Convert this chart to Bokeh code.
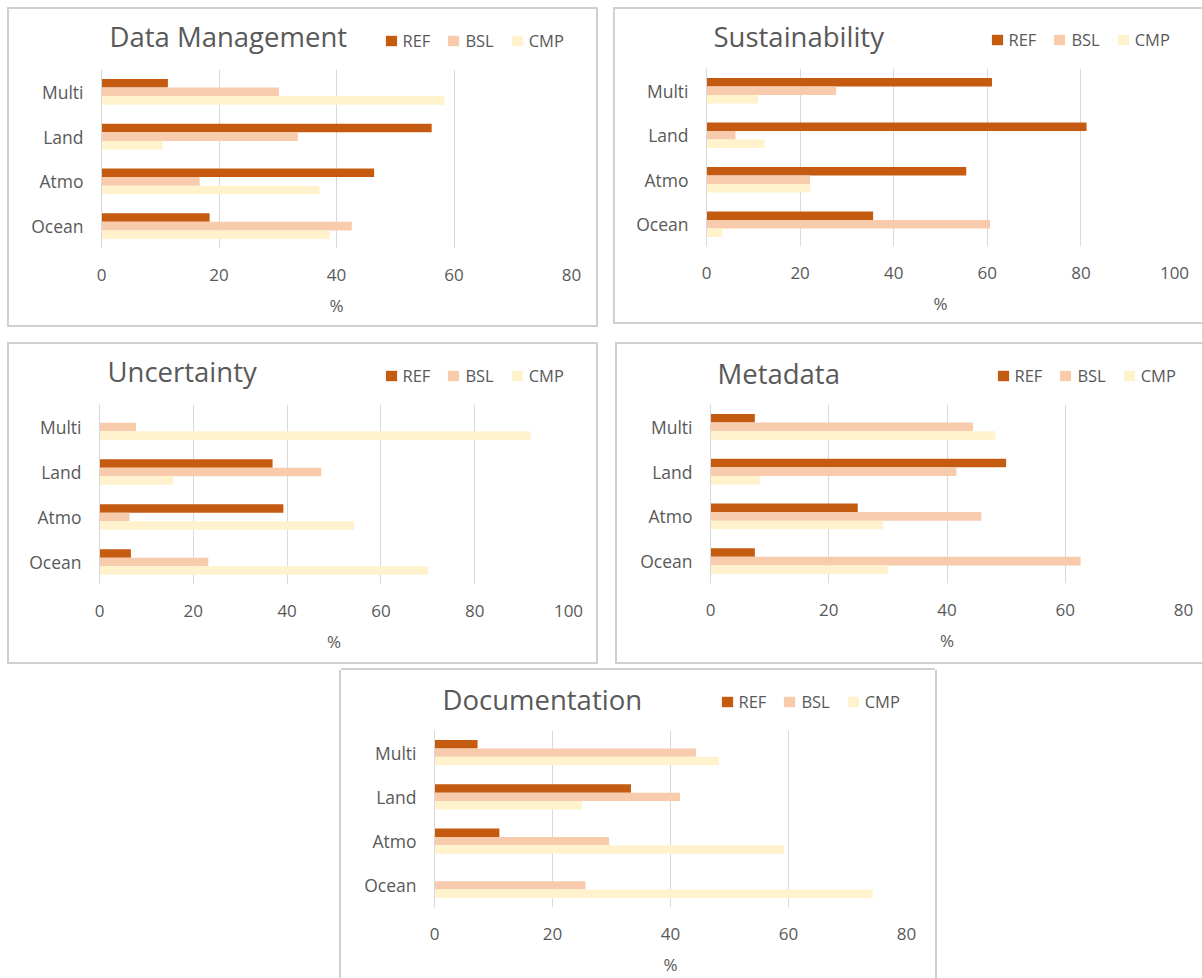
from bokeh.plotting import figure
from bokeh.models import (Range1d, FactorRange, FixedTicker, Label, Legend,
                          LegendItem, Spacer, ColumnDataSource)
from bokeh.layouts import column, row
from bokeh.transform import dodge
from bokeh.embed import file_html
from bokeh.resources import INLINE

# Categories (bottom to top) and series
regions = ["Ocean", "Atmo", "Land", "Multi"]
series = ["REF", "BSL", "CMP"]
colors = ["#C55A11", "#F8CBAD", "#FFF2CC"]

# Percentages per region, ordered Ocean, Atmo, Land, Multi
dm_ref = [18.4, 46.4, 56.2, 11.3]
dm_bsl = [42.6, 16.7, 33.4, 30.2]
dm_cmp = [38.9, 37.1, 10.4, 58.4]

su_ref = [35.6, 55.5, 81.2, 61.0]
su_bsl = [60.6, 22.1, 6.2, 27.7]
su_cmp = [3.4, 22.2, 12.4, 11.0]

un_ref = [6.7, 39.2, 36.9, 0.0]
un_bsl = [23.2, 6.4, 47.3, 7.8]
un_cmp = [70.1, 54.3, 15.7, 91.9]

md_ref = [7.5, 24.9, 50.0, 7.5]
md_bsl = [62.6, 45.8, 41.6, 44.4]
md_cmp = [30.0, 29.2, 8.4, 48.2]

doc_ref = [0.0, 11.0, 33.3, 7.3]
doc_bsl = [25.6, 29.6, 41.6, 44.3]
doc_cmp = [74.3, 59.2, 25.0, 48.2]

ticks_80 = [0, 20, 40, 60, 80]
ticks_100 = [0, 20, 40, 60, 80, 100]

TEXT = "#595959"
GRID = "#D9D9D9"
FONT = "Open Sans"
BAR_H = 0.19


def header(title, src, w, top, title_x, title_up, legend_x, legend_up):
    """Title and legend strip above a chart; its frame lines up with the chart frame."""
    hd = figure(width=w, height=top, x_range=Range1d(0, 1), y_range=Range1d(0, 1),
                output_backend="svg", toolbar_location=None,
                x_axis_location=None, y_axis_location=None,
                min_border=0, min_border_left=0, min_border_right=0,
                min_border_top=0, min_border_bottom=0)
    hd.grid.visible = False
    hd.outline_line_color = None
    hd.background_fill_color = "white"
    hd.border_fill_color = "white"

    hd.add_layout(Label(x=title_x, y=title_up, x_units="screen", y_units="screen",
                        text=title, text_font=FONT, text_font_size="27.5px",
                        text_color=TEXT, text_baseline="middle", text_align="left"))

    # hidden copies of the series, used only as legend keys
    keys = []
    for name, col in zip(series, colors):
        keys.append(hd.hbar(y=0, left=0, right=name, height=1, source=src,
                            fill_color=col, line_color=None, visible=False))
    legend = Legend(items=[LegendItem(label=s, renderers=[r])
                           for s, r in zip(series, keys)],
                    orientation="horizontal",
                    location=(legend_x - 1.5, legend_up - 10),
                    glyph_width=14, glyph_height=13, label_standoff=5,
                    spacing=16, padding=0, margin=0, label_height=20,
                    border_line_color=None, background_fill_alpha=0,
                    inactive_fill_alpha=0,
                    label_text_font=FONT, label_text_font_size="16.5px",
                    label_text_color=TEXT)
    hd.add_layout(legend)
    return hd


def chart(src, ticks, w, h, left, right, bottom):
    p = figure(width=w, height=h,
               x_range=Range1d(0, ticks[-1]), y_range=FactorRange(*regions),
               output_backend="svg", toolbar_location=None,
               min_border_left=left, min_border_right=right,
               min_border_top=0, min_border_bottom=bottom)
    p.outline_line_color = None
    p.background_fill_color = "white"
    p.border_fill_color = "white"

    offsets = [BAR_H, 0.0, -BAR_H]
    for name, col, off in zip(series, colors, offsets):
        p.hbar(y=dodge("region", off, range=p.y_range), left=0, right=name,
               height=BAR_H, source=src, fill_color=col, line_color=None)

    p.ygrid.visible = False
    p.xgrid.ticker = FixedTicker(ticks=ticks)
    p.xgrid.grid_line_color = GRID
    p.xgrid.grid_line_width = 1

    xa = p.xaxis[0]
    xa.ticker = FixedTicker(ticks=ticks)
    xa.axis_line_color = None
    xa.major_tick_line_color = None
    xa.minor_tick_line_color = None
    xa.major_tick_out = 0
    xa.major_tick_in = 0
    xa.major_label_standoff = 20
    xa.major_label_text_font = FONT
    xa.major_label_text_font_size = "17px"
    xa.major_label_text_color = TEXT
    xa.axis_label = "%"
    xa.axis_label_standoff = 10
    xa.axis_label_text_font = FONT
    xa.axis_label_text_font_size = "17px"
    xa.axis_label_text_font_style = "normal"
    xa.axis_label_text_color = TEXT

    ya = p.yaxis[0]
    ya.axis_line_color = GRID
    ya.major_tick_line_color = None
    ya.minor_tick_line_color = None
    ya.major_tick_out = 0
    ya.major_tick_in = 0
    ya.major_label_standoff = 18
    ya.major_label_text_font = FONT
    ya.major_label_text_font_size = "17.5px"
    ya.major_label_text_color = TEXT
    return p


def panel(title, ref, bsl, cmp_, ticks, w, h, left, right, top, bottom,
          title_x, title_up, legend_x, legend_up, shadow):
    src = ColumnDataSource(dict(region=regions, REF=ref, BSL=bsl, CMP=cmp_))
    hd = header(title, src, w, top, title_x, title_up, legend_x, legend_up)
    ch = chart(src, ticks, w, h - top, left, right, bottom)
    return column(hd, ch, spacing=0, styles={"box-shadow": shadow})


RING = "0 0 0 2px #D0D0D0"
OPEN_BOTTOM = "-2px 0 0 0 #D0D0D0, 2px 0 0 0 #D0D0D0, 0 -2px 0 0 #D0D0D0"

p1 = panel("Data Management", dm_ref, dm_bsl, dm_cmp, ticks_80,
           587, 316, 92, 25, 60, 77, 8, 33, 284, 27, RING)
p2 = panel("Sustainability", su_ref, su_bsl, su_cmp, ticks_100,
           587, 313, 91, 28, 59, 76, 7, 32, 285, 27, RING)
p3 = panel("Uncertainty", un_ref, un_bsl, un_cmp, ticks_100,
           587, 318, 90, 28, 60, 78, 8, 33, 286, 27, RING)
p4 = panel("Metadata", md_ref, md_bsl, md_cmp, ticks_80,
           585, 318, 93, 19, 60, 79, 7, 31, 287, 27, RING)
p5 = panel("Documentation", doc_ref, doc_bsl, doc_cmp, ticks_80,
           594, 308, 93, 29, 60, 71, 8, 31, 287, 27, OPEN_BOTTOM)

layout = column(
    Spacer(height=9, width=1202),
    row(Spacer(width=9, height=316), p1, Spacer(width=19, height=316), p2),
    Spacer(height=19, width=1202),
    row(Spacer(width=9, height=318), p3, Spacer(width=21, height=318), p4),
    Spacer(height=8, width=1202),
    row(Spacer(width=341, height=308), p5),
)

open("out.html", "w").write(file_html(layout, INLINE))
